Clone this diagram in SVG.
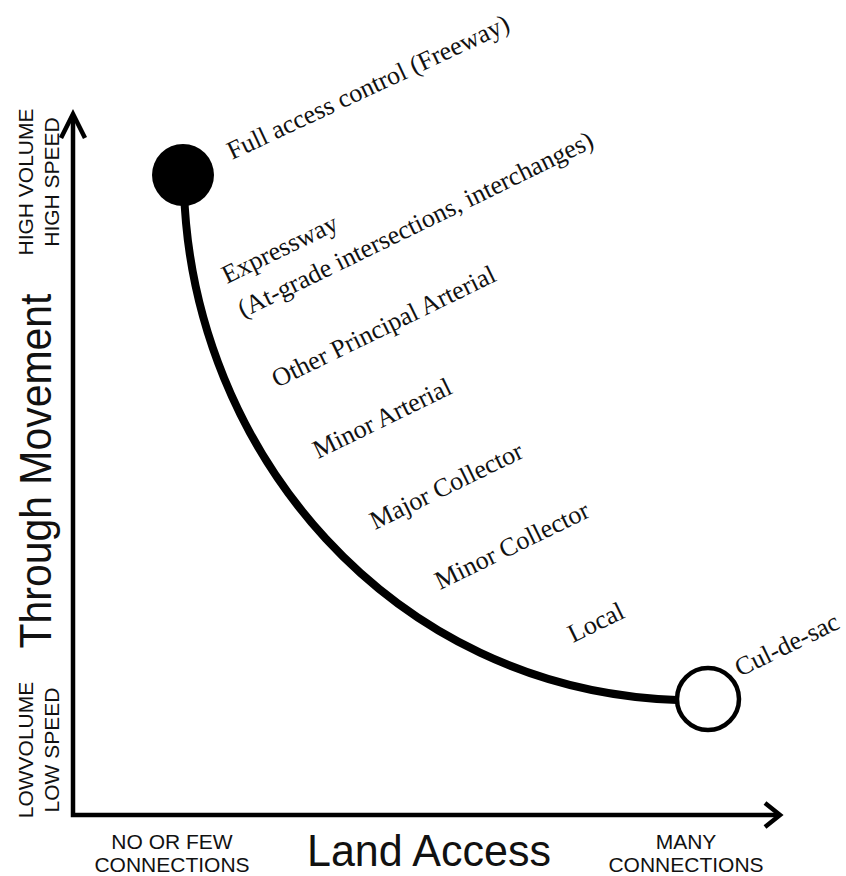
<svg xmlns="http://www.w3.org/2000/svg" width="846" height="876" viewBox="0 0 846 876">
<style>
.axis{fill:none;stroke:#000;stroke-width:4.5;stroke-linejoin:miter;stroke-linecap:butt}
.sans{font-family:"Liberation Sans",Arial,sans-serif;fill:#111}
.small{font-size:21px}
.big{font-size:44px}
.lbl{font-family:"Liberation Serif","Times New Roman",serif;font-size:26px;fill:#111}
</style>
<rect width="846" height="876" fill="#fff"/>
<g id="axes">
  <polyline class="axis" points="73,116 73,815 778,815"/>
  <polyline class="axis" points="61,138 73,114 85,138"/>
  <polyline class="axis" points="765,803 780,815 765,827"/>
</g>
<g id="axis-labels" class="sans">
  <text class="big" text-anchor="middle" textLength="355" lengthAdjust="spacingAndGlyphs" transform="translate(51,471) rotate(-90)">Through Movement</text>
  <text class="small" text-anchor="middle" transform="translate(33,182) rotate(-90)">HIGH VOLUME</text>
  <text class="small" text-anchor="middle" transform="translate(59,182) rotate(-90)">HIGH SPEED</text>
  <text class="small" text-anchor="middle" transform="translate(33,750) rotate(-90)">LOWVOLUME</text>
  <text class="small" text-anchor="middle" transform="translate(59,750) rotate(-90)">LOW SPEED</text>
  <text class="big" text-anchor="middle" textLength="244" lengthAdjust="spacingAndGlyphs" x="429" y="866">Land Access</text>
  <text class="small" text-anchor="middle" x="172" y="849">NO OR FEW</text>
  <text class="small" text-anchor="middle" x="172" y="872">CONNECTIONS</text>
  <text class="small" text-anchor="middle" x="686" y="849">MANY</text>
  <text class="small" text-anchor="middle" x="686" y="872">CONNECTIONS</text>
</g>
<g id="connectors">
  <path d="M184,190 C192,450 390,690 677,700" fill="none" stroke="#000" stroke-width="8"/>
</g>
<g id="freeway-node">
  <circle cx="183" cy="175" r="31" fill="#000"/>
</g>
<g id="culdesac-node">
  <circle cx="708" cy="699" r="31" fill="#fff" stroke="#000" stroke-width="4.5"/>
</g>
<g id="labels" class="lbl">
  <text transform="translate(232,160) rotate(-25)">Full access control (Freeway)</text>
  <text transform="translate(227,284) rotate(-26)">Expressway</text>
  <text transform="translate(243,318) rotate(-26)">(At-grade intersections, interchanges)</text>
  <text transform="translate(277,388) rotate(-26)">Other Principal Arterial</text>
  <text transform="translate(318,459) rotate(-26)">Minor Arterial</text>
  <text transform="translate(375,530) rotate(-26)">Major Collector</text>
  <text transform="translate(440,590) rotate(-26)">Minor Collector</text>
  <text transform="translate(573,643) rotate(-26)">Local</text>
  <text transform="translate(740,677) rotate(-26)">Cul-de-sac</text>
</g>
</svg>
